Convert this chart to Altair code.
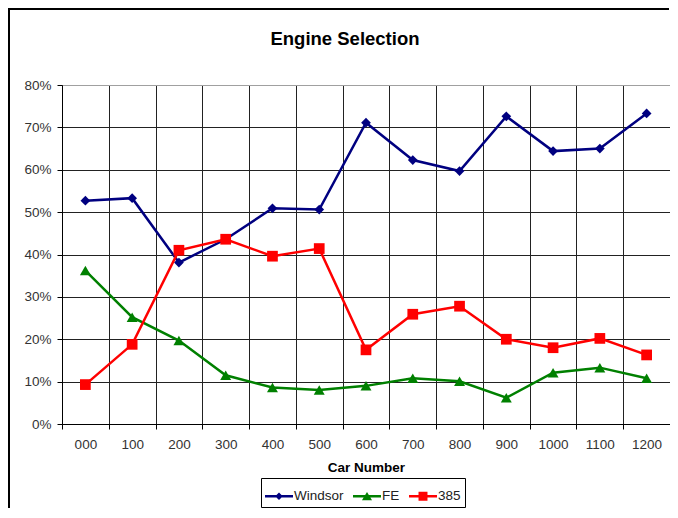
import altair as alt
import pandas as pd

cars = ["000", "100", "200", "300", "400", "500", "600", "700", "800", "900", "1000", "1100", "1200"]
windsor = [0.527, 0.533, 0.381, 0.436, 0.509, 0.506, 0.711, 0.623, 0.597, 0.726, 0.644, 0.650, 0.733]
fe = [0.362, 0.252, 0.197, 0.115, 0.086, 0.080, 0.090, 0.108, 0.101, 0.062, 0.121, 0.133, 0.108]
e385 = [0.093, 0.188, 0.410, 0.436, 0.396, 0.414, 0.175, 0.259, 0.278, 0.200, 0.180, 0.202, 0.163]

series_names = ["Windsor", "FE", "385"]
series_colors = ["#000080", "#008000", "#FF0000"]
series_shapes = ["diamond", "triangle-up", "square"]
legend_paths = [
    "M-1,-0.09H1V0.09H-1Z M0,-0.27L0.27,0L0,0.27L-0.27,0Z",
    "M-1,-0.09H1V0.09H-1Z M0,-0.3L0.36,0.28L-0.36,0.28Z",
    "M-1,-0.09H1V0.09H-1Z M-0.32,-0.32H0.32V0.32H-0.32Z",
]
chart_title = "Engine Selection"

rows = []
for name, vals in zip(series_names, [windsor, fe, e385]):
    for c, v in zip(cars, vals):
        rows.append({"car": c, "series": name, "value": v})
df = pd.DataFrame(rows)

FONT = "Liberation Sans"

x_enc = alt.X(
    "car:O",
    sort=cars,
    bandPosition=0.5,
    scale=alt.Scale(type="band", paddingInner=0, paddingOuter=0),
    axis=alt.Axis(
        title="Car Number",
        labelAngle=0,
        tickBand="extent",
        grid=True,
        gridColor="#222222",
        gridWidth=1,
        domainColor="#000000",
        tickColor="#000000",
        tickSize=5,
        labelPadding=8,
        labelFont=FONT,
        labelFontSize=13.5,
        labelColor="#333333",
        titleFont=FONT,
        titleFontSize=13.5,
        titleFontWeight="bold",
        titleColor="#000000",
        titlePadding=10,
    ),
)
y_enc = alt.Y(
    "value:Q",
    scale=alt.Scale(domain=[0, 0.8], nice=False),
    axis=alt.Axis(
        title=None,
        format=".0%",
        values=[0, 0.1, 0.2, 0.3, 0.4, 0.5, 0.6, 0.7, 0.8],
        grid=True,
        gridColor={"condition": {"test": "datum.value >= 0.8", "value": "#a0a0a0"}, "value": "#222222"},
        gridWidth=1,
        domainColor="#000000",
        tickColor="#000000",
        tickSize=5,
        labelPadding=6,
        labelFont=FONT,
        labelFontSize=13.5,
        labelColor="#333333",
    ),
)

layers = []
for name, col, shp in zip(series_names, series_colors, series_shapes):
    sub = alt.Chart(df).transform_filter(alt.datum.series == name)
    size = {"diamond": 95, "triangle-up": 120, "square": 115}[shp]
    layers.append(sub.mark_line(color=col, strokeWidth=2.5).encode(x=x_enc, y=y_enc))
    layers.append(
        sub.mark_point(shape=shp, filled=True, color=col, size=size, opacity=1).encode(x=x_enc, y=y_enc)
    )

legend_layer = alt.Chart(df).mark_point(filled=True, opacity=1, clip=True).encode(
    x=alt.value(-500),
    y=alt.value(-500),
    color=alt.Color(
        "series:N",
        scale=alt.Scale(domain=series_names, range=series_colors),
        legend=alt.Legend(
            title=None,
            orient="none",
            legendX=199,
            legendY=393,
            direction="horizontal",
            strokeColor="#000000",
            fillColor="#ffffff",
            padding=4,
            columnPadding=9,
            symbolSize=784,
            symbolStrokeWidth=0,
            labelFont=FONT,
            labelFontSize=13.5,
            labelColor="#222222",
            labelOffset=1,
            symbolOpacity=1,
        ),
    ),
    shape=alt.Shape(
        "series:N",
        scale=alt.Scale(domain=series_names, range=legend_paths),
        legend=alt.Legend(
            title=None,
            orient="none",
            legendX=199,
            legendY=393,
            direction="horizontal",
        ),
    ),
)

single = alt.Chart(pd.DataFrame({"t": [chart_title]}))
border_left = single.mark_rule(stroke="#000000", strokeWidth=2, clip=False).encode(
    x=alt.value(-53),
    y=alt.value(-76),
    y2=alt.value(600),
)
border_top = single.mark_rule(stroke="#000000", strokeWidth=2, clip=False).encode(
    y=alt.value(-76),
    x=alt.value(-54),
    x2=alt.value(607),
)
title_text = single.mark_text(
    font=FONT, fontSize=18.5, fontWeight="bold", color="#000000",
    align="center", baseline="alphabetic", clip=False,
).encode(
    text="t:N",
    x=alt.value(283),
    y=alt.value(-40),
)

chart = alt.layer(*layers, legend_layer, border_left, border_top, title_text).properties(
    width=608,
    height=339,
    autosize=alt.AutoSizeParams(type="none"),
    padding={"left": 54, "top": 77, "right": 0, "bottom": 84},
).configure_view(stroke="#a0a0a0", strokeWidth=1).configure(background="#ffffff")

chart.save("out.html", embed_options={"renderer": "svg", "actions": False})
